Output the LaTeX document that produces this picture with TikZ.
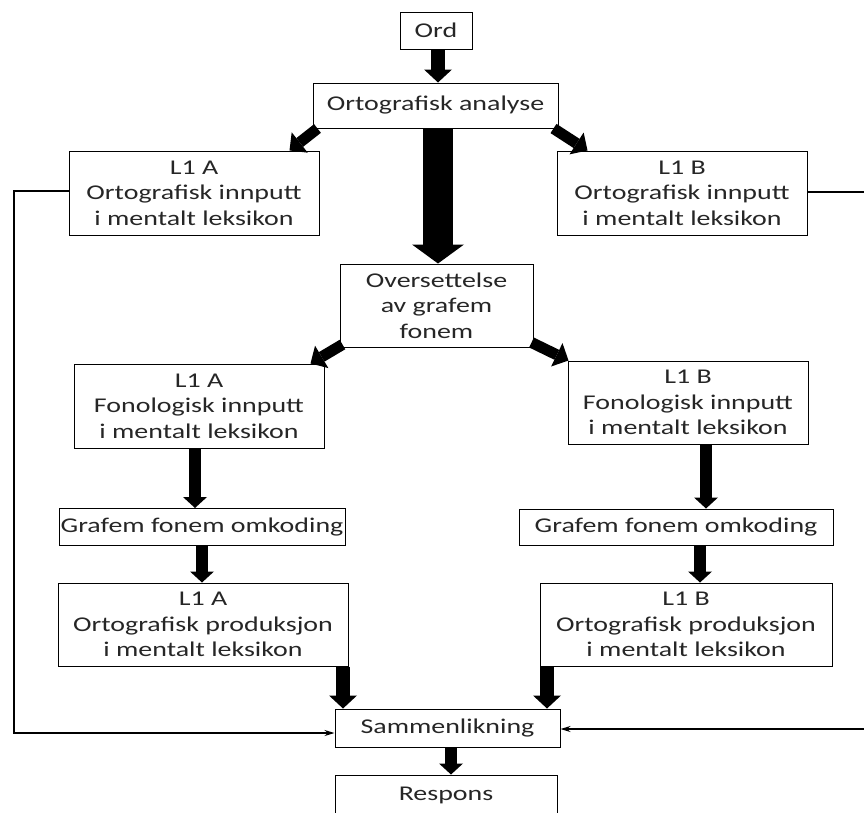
\documentclass[tikz,border=0pt]{standalone}
\usepackage{fontspec}
\setmainfont{Carlito}[FakeStretch=1.33]
\usetikzlibrary{arrows.meta}
\begin{document}
\begin{tikzpicture}[x=1pt,y=-1pt,
  box/.style={draw, line width=1pt, inner sep=0pt, align=center, text=black!85,
    font=\fontsize{21}{25.5}\selectfont},
  blkS/.style={line width=12pt, -{Triangle[width=24pt,length=11pt,line width=0pt]}},
  blkM/.style={line width=14pt, -{Triangle[width=28pt,length=13pt,line width=0pt]}},
  blkD/.style={line width=11pt, -{Triangle[width=26pt,length=13pt,line width=0pt]}},
  blkL/.style={line width=30pt, -{Triangle[width=52pt,length=19pt,line width=0pt]}},
  thin/.style={line width=1.5pt, -{Stealth[length=10pt,width=6pt]}}]
\useasboundingbox (0,0) rectangle (864,812);

\node[box, minimum width=72pt, minimum height=37pt] (ord) at (436,30.5) {Ord};
\node[box, minimum width=245pt, minimum height=45pt] (ana) at (435.5,105.5) {Ortografisk analyse};
\node[box, minimum width=250pt, minimum height=84pt] (oA) at (194,193) {L1 A\\Ortografisk innputt\\i mentalt leksikon};
\node[box, minimum width=250pt, minimum height=84pt] (oB) at (682,193) {L1 B\\Ortografisk innputt\\i mentalt leksikon};
\node[box, minimum width=193pt, minimum height=83pt] (ov) at (436.5,305.5) {Oversettelse\\av grafem\\fonem};
\node[box, minimum width=250pt, minimum height=84pt] (fA) at (199,406) {L1 A\\Fonologisk innputt\\i mentalt leksikon};
\node[box, minimum width=240pt, minimum height=83pt] (fB) at (688,402.5) {L1 B\\Fonologisk innputt\\i mentalt leksikon};
\node[box, minimum width=286pt, minimum height=37pt] (gA) at (202,527) {Grafem fonem omkoding};
\node[box, minimum width=314pt, minimum height=36pt] (gB) at (676,527) {Grafem fonem omkoding};
\node[box, minimum width=290pt, minimum height=83pt] (pA) at (203,624.5) {L1 A\\Ortografisk produksjon\\i mentalt leksikon};
\node[box, minimum width=292pt, minimum height=83pt] (pB) at (686,624.5) {L1 B\\Ortografisk produksjon\\i mentalt leksikon};
\node[box, minimum width=225pt, minimum height=38pt] (sam) at (447.5,728) {Sammenlikning};
\node[box, minimum width=222pt, minimum height=40pt] (res) at (446,795) {Respons};

% x positions of vertical arrows
\coordinate (x1) at (438,0);
\coordinate (x2) at (195,0);
\coordinate (x3) at (706,0);
\coordinate (x4) at (202,0);
\coordinate (x5) at (700,0);
\coordinate (x6) at (343,0);
\coordinate (x7) at (547,0);
\coordinate (x8) at (451,0);
\coordinate (lx) at (14,0);
\coordinate (rx) at (880,0);

\draw[blkM] (ord.south -| x1) -- (ana.north -| x1);
\draw[blkL] (ana.south -| x1) -- (ov.north -| x1);
\draw[blkD] ([xshift=5pt]ana.south west) -- ([xshift=-30pt]oA.north east);
\draw[blkD] ([xshift=-5pt]ana.south east) -- ([xshift=31pt]oB.north west);
\draw[blkD] ([xshift=3pt,yshift=3pt]ov.south west) -- ([xshift=-14pt]fA.north east);
\draw[blkD] ([xshift=-2pt,yshift=5pt]ov.south east) -- ([xshift=1pt]fB.north west);
\draw[blkS] (fA.south -| x2) -- (gA.north -| x2);
\draw[blkS] (fB.south -| x3) -- (gB.north -| x3);
\draw[blkS] (gA.south -| x4) -- (pA.north -| x4);
\draw[blkS] (gB.south -| x5) -- (pB.north -| x5);
\draw[blkM] (pA.south -| x6) -- (sam.north -| x6);
\draw[blkM] (pB.south -| x7) -- (sam.north -| x7);
\draw[blkS] (sam.south -| x8) -- (res.north -| x8);

\draw[thin] ([yshift=2pt]oA.west) -- ([yshift=2pt]oA.west -| lx) |- ([yshift=-5pt]sam.west);
\draw[thin] ([yshift=1pt]oB.east) -- ([yshift=1pt]oB.east -| rx) |- ([yshift=-1pt]sam.east);
\end{tikzpicture}
\end{document}
